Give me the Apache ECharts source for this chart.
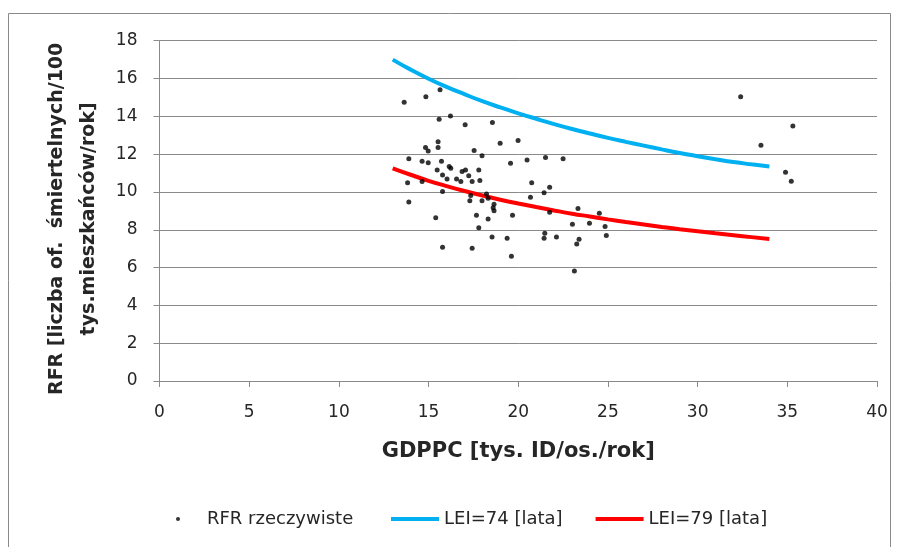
<!DOCTYPE html>
<html>
<head>
<meta charset="utf-8">
<script src="https://cdn.jsdelivr.net/npm/echarts@6/dist/echarts.min.js"></script>
<style>
html,body{margin:0;padding:0;background:#fff;}
#chart{width:899px;height:547px;}
</style>
</head>
<body>
<div id="chart"></div>
<script>
// Observed points
var gdppc = [13.64,14.85,15.64,15.59,16.22,17.04,18.56,15.53,15.53,14.83,14.98,17.54,17.98,18.99,19.99,
  13.90,14.64,14.98,15.72,15.48,16.15,16.24,15.78,16.03,16.56,16.80,16.87,17.06,17.24,17.43,17.80,17.86,
  19.57,20.49,21.52,13.83,14.64,13.90,15.78,17.35,17.30,18.23,18.32,17.98,18.65,18.60,18.65,15.40,17.67,
  18.32,19.68,17.80,20.75,21.75,20.68,21.44,21.75,18.54,19.38,21.48,21.44,22.13,15.78,17.43,19.62,
  32.40,35.31,33.53,34.90,35.22,22.50,23.33,24.52,23.02,23.97,24.84,23.39,23.26,24.91,23.13];
var rfr = [14.75,15.04,15.40,13.85,14.02,13.55,13.67,12.66,12.35,12.35,12.17,12.19,11.92,12.58,12.72,
  11.75,11.62,11.55,11.62,11.16,11.34,11.25,10.90,10.69,10.69,10.55,11.08,11.16,10.85,10.55,11.16,10.60,
  11.52,11.69,11.82,10.49,10.55,9.47,10.02,9.81,9.54,9.89,9.67,9.54,9.35,9.17,9.00,8.64,8.77,
  8.57,8.77,8.11,10.49,10.25,9.72,9.96,8.93,7.62,7.55,7.81,7.55,7.62,7.07,7.02,6.60,
  15.04,13.49,12.47,11.04,10.57,11.75,9.12,8.87,8.29,8.34,8.17,7.50,7.25,7.69,5.82];

// Model curves
var curveX = [13,14,15,16,17,18,19,20,21,22,23,24,25,26,27,28,29,30,31,32,33,34];
var lei74 = [17.00,16.47,15.99,15.56,15.17,14.80,14.47,14.16,13.87,13.59,13.33,13.09,12.86,12.65,12.45,12.25,12.06,11.89,11.73,11.58,11.46,11.35];
var lei79 = [11.25,10.91,10.59,10.31,10.05,9.81,9.59,9.39,9.20,9.02,8.85,8.70,8.55,8.41,8.28,8.15,8.03,7.92,7.81,7.71,7.61,7.51];

var seriesNames = ['RFR rzeczywiste','LEI=74 [lata]','LEI=79 [lata]'];
var xTitle = 'GDPPC [tys. ID/os./rok]';
var yTitle = 'RFR [liczba of.  śmiertelnych/100\ntys.mieszkańców/rok]';

function zip(a,b){var r=[];for(var i=0;i<a.length;i++)r.push([a[i],b[i]]);return r;}

var FONT = '"DejaVu Sans",sans-serif';
var TXT = '#262626';
var chart = echarts.init(document.getElementById('chart'), null, {renderer:'canvas'});
chart.setOption({
  animation:false,
  backgroundColor:'#fff',
  textStyle:{fontFamily:FONT},
  graphic:[{type:'rect',shape:{x:8.5,y:13.5,width:882,height:560},style:{fill:'none',stroke:'#8a8a8a',lineWidth:1},silent:true}],
  grid:{left:159.5,top:40.7,right:22,bottom:166},
  legend:[{
    left:171, top:505, itemWidth:48, itemHeight:4, itemGap:35,
    textStyle:{fontFamily:FONT,fontSize:18,color:TXT},
    data:[{name:seriesNames[0],icon:'circle'}]
  },{
    left:386, top:505, itemWidth:48, itemHeight:4, itemGap:33,
    textStyle:{fontFamily:FONT,fontSize:18,color:TXT},
    data:[{name:seriesNames[1],icon:'rect'},{name:seriesNames[2],icon:'rect'}]
  }],
  xAxis:{
    type:'value', min:0, max:40, interval:5,
    name:xTitle, nameLocation:'middle', nameGap:60,
    nameTextStyle:{fontFamily:FONT,fontSize:21,fontWeight:'bold',color:TXT},
    axisLine:{lineStyle:{color:'#8a8a8a',width:1}},
    axisTick:{show:true,length:6,lineStyle:{color:'#8a8a8a'}},
    axisLabel:{fontFamily:FONT,fontSize:17,color:TXT,margin:23},
    splitLine:{show:false}
  },
  yAxis:{
    type:'value', min:0, max:18, interval:2,
    name:yTitle, nameLocation:'middle', nameGap:53, nameRotate:90,
    nameTextStyle:{fontFamily:FONT,fontSize:19,fontWeight:'bold',color:TXT,lineHeight:32,align:'center',padding:[0,16,0,0]},
    axisLine:{show:true,lineStyle:{color:'#8a8a8a',width:1}},
    axisTick:{show:true,length:6,lineStyle:{color:'#8a8a8a'}},
    axisLabel:{fontFamily:FONT,fontSize:17,color:TXT,margin:22},
    splitLine:{show:true,lineStyle:{color:'#8a8a8a',width:1}}
  },
  series:[
    {name:seriesNames[0],type:'scatter',data:zip(gdppc,rfr),symbol:'circle',symbolSize:5,
     itemStyle:{color:'#000'},z:5},
    {name:seriesNames[1],type:'line',data:zip(curveX,lei74),symbol:'none',smooth:true,
     lineStyle:{color:'#00B0F0',width:4},itemStyle:{color:'#00B0F0'},z:3},
    {name:seriesNames[2],type:'line',data:zip(curveX,lei79),symbol:'none',smooth:true,
     lineStyle:{color:'#FF0000',width:4},itemStyle:{color:'#FF0000'},z:3}
  ]
});
</script>
</body>
</html>
